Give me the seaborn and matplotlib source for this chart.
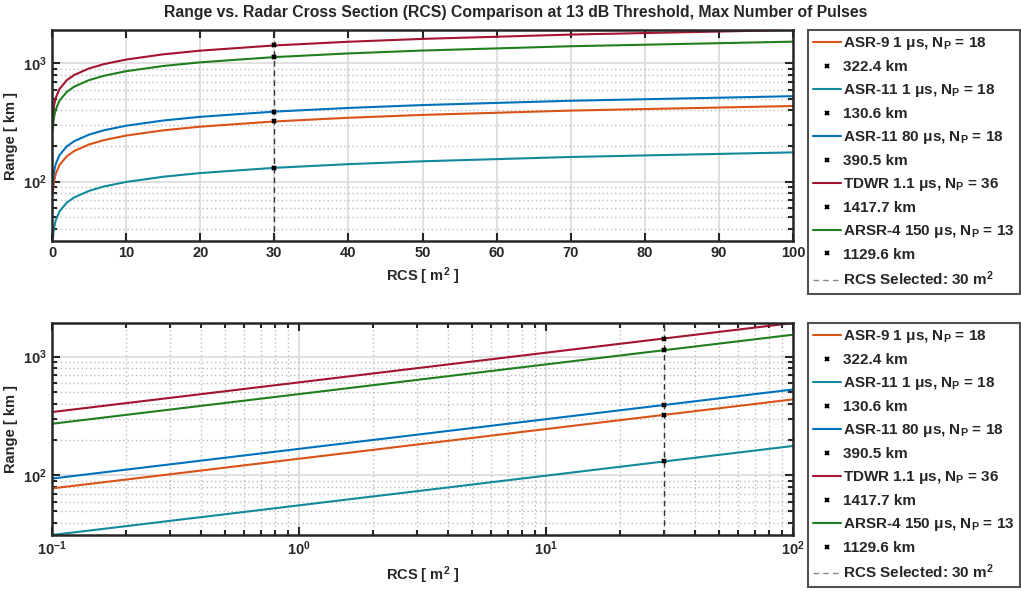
import numpy as np
import pandas as pd
import matplotlib
matplotlib.use("Agg")
import matplotlib.pyplot as plt
from matplotlib.lines import Line2D
from matplotlib.ticker import LogLocator, MultipleLocator, NullFormatter
import seaborn as sns

# =================== DATA ===================

RCS = [0.1, 0.2, 0.3, 0.5, 1, 2, 3, 5, 7, 10, 15, 20, 30, 40, 50, 70, 100]

ASR9_1US = [77.5, 92.1, 101.9, 115.8, 137.8, 163.8, 181.3, 206.0, 224.1, 245.0,
            271.1, 291.3, 322.4, 346.5, 366.3, 398.5, 435.6]
ASR11_1US = [31.4, 37.3, 41.3, 46.9, 55.8, 66.4, 73.4, 83.4, 90.8, 99.2,
             109.8, 118.0, 130.6, 140.3, 148.4, 161.4, 176.5]
ASR11_80US = [93.8, 111.6, 123.5, 140.3, 166.9, 198.5, 219.6, 249.5, 271.4, 296.7,
              328.4, 352.9, 390.5, 419.6, 443.7, 482.6, 527.6]
TDWR_11US = [340.7, 405.2, 448.3, 509.4, 605.8, 720.5, 797.2, 905.8, 985.3, 1077.2,
             1192.2, 1281.0, 1417.7, 1523.5, 1610.8, 1752.2, 1915.6]
ARSR4_150US = [271.4, 322.8, 357.2, 405.9, 482.7, 574.1, 635.2, 721.7, 785.1, 858.3,
               949.9, 1020.7, 1129.6, 1213.9, 1283.5, 1396.1, 1526.3]

RADARS = ["ASR-9 1 μs, N$_P$ = 18", "ASR-11 1 μs, N$_P$ = 18", "ASR-11 80 μs, N$_P$ = 18",
          "TDWR 1.1 μs, N$_P$ = 36", "ARSR-4 150 μs, N$_P$ = 13"]
SELECTED_RCS = 30
SELECTED_RANGE = [322.4, 130.6, 390.5, 1417.7, 1129.6]
COLORS = ["#D95319", "#138A9B", "#0072BD", "#A2142F", "#1F7F1F"]

# =================== STYLE ===================

sns.set_style("ticks")
plt.rcParams["font.family"] = ["Liberation Sans", "DejaVu Sans"]
plt.rcParams["font.weight"] = "bold"
plt.rcParams["axes.labelweight"] = "bold"
plt.rcParams["mathtext.fontset"] = "custom"
plt.rcParams["mathtext.rm"] = "Liberation Sans:bold"
plt.rcParams["mathtext.it"] = "Liberation Sans:bold"
plt.rcParams["mathtext.bf"] = "Liberation Sans:bold"
plt.rcParams["mathtext.default"] = "rm"

df = pd.DataFrame({
    "rcs": RCS * 5,
    "range": ASR9_1US + ASR11_1US + ASR11_80US + TDWR_11US + ARSR4_150US,
    "radar": [r for r in RADARS for _ in RCS],
})

fig = plt.figure(figsize=(10.21, 5.91), dpi=100)
W, H = 1021, 591
ax_top = fig.add_axes([52 / W, 1 - 241 / H, (793 - 52) / W, (241 - 30) / H])
ax_bot = fig.add_axes([52 / W, 1 - 535 / H, (793 - 52) / W, (535 - 323) / H])

dot = (0, (1, 2))
for ax, logx in [(ax_top, False), (ax_bot, True)]:
    sns.lineplot(data=df, x="rcs", y="range", hue="radar", palette=COLORS,
                 hue_order=RADARS, linewidth=1.5, legend=False, ax=ax,
                 estimator=None, sort=True)
    ax.plot([SELECTED_RCS] * 5, SELECTED_RANGE, "x", color="black", ms=3.5, mew=1.5,
            zorder=5)
    ax.axvline(SELECTED_RCS, color="#333333", ls=(0, (4, 3)), lw=1, zorder=4)
    ax.set_yscale("log")
    ax.set_ylim(min(ASR11_1US), max(TDWR_11US))
    if logx:
        ax.set_xscale("log")
        ax.set_xlim(min(RCS), max(RCS))
        ax.xaxis.set_minor_locator(LogLocator(base=10, subs=np.arange(2, 10)))
        ax.xaxis.set_minor_formatter(NullFormatter())
        ax.grid(True, which="minor", axis="x", color="#bbbbbb", ls=dot, lw=1)
    else:
        ax.set_xlim(0, 100)
        ax.xaxis.set_major_locator(MultipleLocator(10))
    ax.yaxis.set_minor_locator(LogLocator(base=10, subs=np.arange(2, 10)))
    ax.yaxis.set_minor_formatter(NullFormatter())
    ax.grid(True, which="major", color="#dddddd", ls="-", lw=1.3)
    ax.grid(True, which="minor", axis="y", color="#bbbbbb", ls=dot, lw=1)
    ax.set_axisbelow(True)
    ax.set_xlabel("RCS [ m$^2$ ]", fontsize=10.5, labelpad=4)
    ax.set_ylabel("Range [ km ]", fontsize=10.5, labelpad=4)
    ax.tick_params(which="both", direction="in", top=True, right=True,
                   labelsize=10.5, colors="#262626", width=1.5)
    ax.tick_params(which="major", length=6)
    ax.tick_params(which="minor", length=3.5)
    for lbl in ax.get_xticklabels() + ax.get_yticklabels():
        lbl.set_fontweight("bold")
    for sp in ax.spines.values():
        sp.set_linewidth(1.8)
        sp.set_color("#262626")
        sp.set_visible(True)

    handles, labels = [], []
    for name, color, r in zip(RADARS, COLORS, SELECTED_RANGE):
        handles.append(Line2D([], [], color=color, lw=1.5))
        labels.append(name)
        handles.append(Line2D([], [], color="black", marker="x", ls="none", ms=3.5, mew=1.5))
        labels.append(f"{r:.1f} km")
    handles.append(Line2D([], [], color="#888888", ls=(0, (4, 3)), lw=1))
    labels.append("RCS Selected: 30 m$^2$")
    top = 30 if ax is ax_top else 323
    leg = ax.legend(handles, labels, loc="upper left",
                    bbox_to_anchor=(808 / W, 1 - top / H), bbox_transform=fig.transFigure,
                    fontsize=11, frameon=True, fancybox=False, edgecolor="#262626",
                    handlelength=1.8, handletextpad=0.15, labelspacing=0.52,
                    borderpad=0.35, borderaxespad=0)
    leg.get_frame().set_linewidth(1.5)
    for t in leg.get_texts():
        t.set_fontweight("bold")

fig.suptitle("Range vs. Radar Cross Section (RCS) Comparison at 13 dB Threshold, Max Number of Pulses",
             fontsize=11.3, fontweight="bold", y=1 - 5 / H, va="top", x=0.505)

fig.savefig("out.png", dpi=100)
plt.close(fig)
